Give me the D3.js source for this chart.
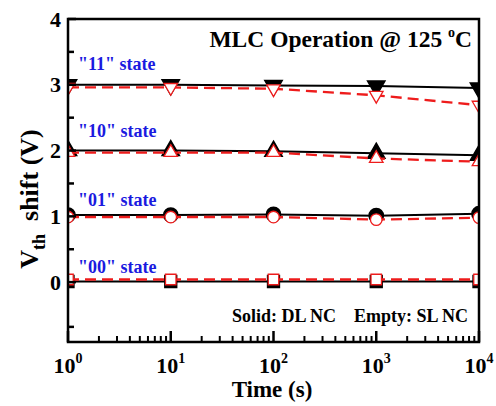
<!DOCTYPE html>
<html><head><meta charset="utf-8">
<script src="https://cdn.jsdelivr.net/npm/d3@7"></script>
<style>
html,body{margin:0;padding:0;background:#fff;}
svg{display:block;font-family:"Liberation Serif","Times New Roman",serif;font-weight:bold;}
</style></head>
<body><svg id="c" width="496" height="406"></svg>
<script>
const times = [1, 10, 100, 1000, 10000];
const dl11 = [3.0, 3.0, 2.99, 2.98, 2.95];
const sl11 = [2.96, 2.96, 2.94, 2.84, 2.69];
const dl10 = [2.0, 2.0, 1.99, 1.96, 1.93];
const sl10 = [1.97, 1.97, 1.97, 1.88, 1.83];
const dl01 = [1.02, 1.02, 1.03, 1.01, 1.04];
const sl01 = [0.99, 0.99, 0.99, 0.95, 0.98];
const dl00 = [0.01, 0.01, 0.01, 0.01, 0.01];
const sl00 = [0.04, 0.04, 0.04, 0.04, 0.04];
const stateLabels = ['"11" state', '"10" state', '"01" state', '"00" state'];
const stateLabelY = [3.22, 2.2, 1.15, 0.14];
const yMajorTicks = [0, 1, 2, 3, 4];
const yMinorTicks = [-0.68, 0.5, 1.5, 2.5, 3.5];
const xMajorTicks = [1, 10, 100, 1000, 10000];
const xExponents = ["0", "1", "2", "3", "4"];

const svg = d3.select("#c");
const L = 68, R = 479, T = 19, B = 342;
const x = d3.scaleLog().domain([1, 10000]).range([L, R]);
const y = d3.scaleLinear().domain([-0.91, 4]).range([B, T]);

svg.append("defs").append("clipPath").attr("id", "clip")
  .append("rect").attr("x", L).attr("y", T).attr("width", R - L).attr("height", B - T);

const series = [
  {dl: dl11, sl: sl11, shape: "down"},
  {dl: dl10, sl: sl10, shape: "up"},
  {dl: dl01, sl: sl01, shape: "circle"},
  {dl: dl00, sl: sl00, shape: "square"}
];
const line = d3.line().x((d, i) => x(times[i])).y(d => y(d));
const plot = svg.append("g").attr("clip-path", "url(#clip)");

function sym(shape, filled) {
  if (shape === "up" || shape === "down") return d3.symbol().type(d3.symbolTriangle).size(filled ? 130 : 80)();
  if (shape === "circle") return d3.symbol().type(d3.symbolCircle).size(filled ? 160 : 105)();
  return d3.symbol().type(d3.symbolSquare).size(filled ? 140 : 110)();
}

series.forEach(s => {
  plot.append("path").attr("d", line(s.dl)).attr("fill", "none").attr("stroke", "#000").attr("stroke-width", 2);
  plot.selectAll(null).data(s.dl).enter().append("path")
    .attr("d", sym(s.shape, true))
    .attr("transform", (d, i) => `translate(${x(times[i])},${y(d)})` + (s.shape === "down" ? " rotate(180)" : ""))
    .attr("fill", "#000").attr("stroke", "#000").attr("stroke-width", 1.5);
});
series.forEach(s => {
  plot.append("path").attr("d", line(s.sl)).attr("fill", "none").attr("stroke", "#ee1c1c").attr("stroke-width", 2.3)
    .attr("stroke-dasharray", "11,6");
  plot.selectAll(null).data(s.sl).enter().append("path")
    .attr("d", sym(s.shape, false))
    .attr("transform", (d, i) => `translate(${x(times[i])},${y(d)})` + (s.shape === "down" ? " rotate(180)" : ""))
    .attr("fill", "#fff").attr("stroke", "#ee1c1c").attr("stroke-width", 1.3);
});

// axes frame
svg.append("rect").attr("x", L).attr("y", T).attr("width", R - L).attr("height", B - T)
  .attr("fill", "none").attr("stroke", "#000").attr("stroke-width", 2.5);

// y ticks (inward)
svg.selectAll(null).data(yMajorTicks).enter().append("line")
  .attr("x1", L).attr("x2", L + 8).attr("y1", d => y(d)).attr("y2", d => y(d)).attr("stroke", "#000").attr("stroke-width", 2.5);
svg.selectAll(null).data(yMinorTicks).enter().append("line")
  .attr("x1", L).attr("x2", L + 6).attr("y1", d => y(d)).attr("y2", d => y(d)).attr("stroke", "#000").attr("stroke-width", 2.5);
svg.selectAll(null).data(yMajorTicks).enter().append("text")
  .attr("x", L - 7).attr("y", d => y(d) + 7.5).attr("text-anchor", "end").attr("font-size", 22).text(d => d);

// x ticks
const xMinor = [];
for (let e = 0; e < 4; e++) for (let k = 2; k <= 9; k++) xMinor.push(k * Math.pow(10, e));
svg.selectAll(null).data(xMinor).enter().append("line")
  .attr("x1", d => x(d)).attr("x2", d => x(d)).attr("y1", B).attr("y2", B - 6).attr("stroke", "#000").attr("stroke-width", 2);
svg.selectAll(null).data(xMajorTicks).enter().append("line")
  .attr("x1", d => x(d)).attr("x2", d => x(d)).attr("y1", B).attr("y2", B - 11).attr("stroke", "#000").attr("stroke-width", 2.5);
const xl = svg.selectAll(null).data(xMajorTicks).enter().append("text")
  .attr("x", d => x(d)).attr("y", 373).attr("text-anchor", "middle").attr("font-size", 22);
xl.append("tspan").text("10");
xl.append("tspan").attr("font-size", 14).attr("dy", -10).text((d, i) => xExponents[i]);

// axis titles
svg.append("text").attr("x", 272).attr("y", 397).attr("text-anchor", "middle").attr("font-size", 23).text("Time (s)");
const yt = svg.append("text").attr("transform", "translate(38,199) rotate(-90)").attr("text-anchor", "middle").attr("font-size", 26)
  .attr("xml:space", "preserve");
yt.append("tspan").text("V");
yt.append("tspan").attr("font-size", 18).attr("dy", 7).text("th");
yt.append("tspan").attr("dy", -7).text("  shift (V)");

// title
const tt = svg.append("text").attr("x", 472).attr("y", 47).attr("text-anchor", "end").attr("font-size", 23.5);
tt.append("tspan").text("MLC Operation @ 125 ");
tt.append("tspan").attr("font-size", 14).attr("dy", -10).text("o");
tt.append("tspan").attr("dy", 10).text("C");

// state labels
svg.selectAll(null).data(stateLabels).enter().append("text")
  .attr("x", 78).attr("y", (d, i) => y(stateLabelY[i])).attr("font-size", 18).attr("fill", "#1a1ae0").text(d => d);

// legend note
svg.append("text").attr("x", 468).attr("y", 322).attr("text-anchor", "end").attr("font-size", 18)
  .attr("xml:space", "preserve").text("Solid: DL NC    Empty: SL NC");
</script></body></html>
